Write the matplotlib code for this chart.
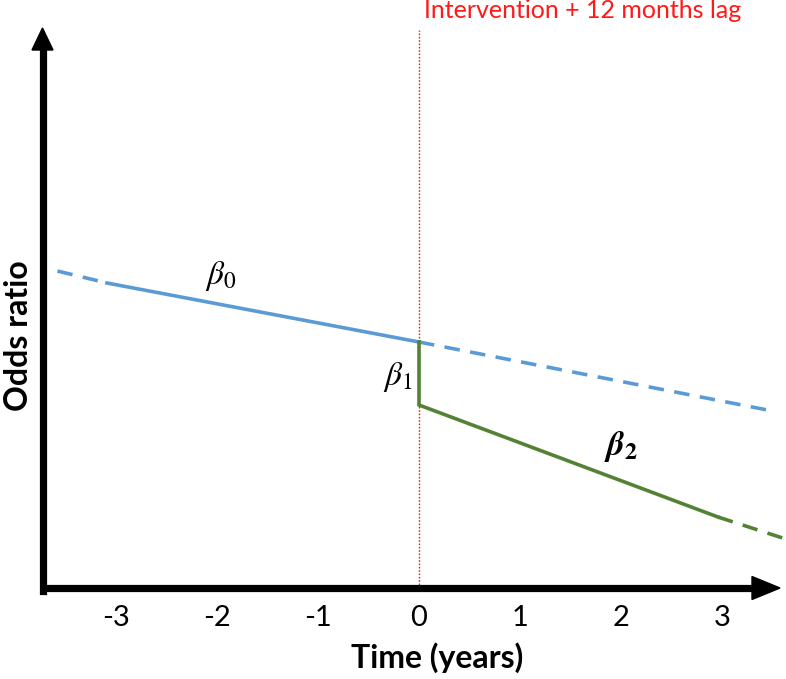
import matplotlib
matplotlib.use("Agg")
import matplotlib.pyplot as plt
from matplotlib.patches import Polygon

# ---- data ----
ticks = [-3, -2, -1, 0, 1, 2, 3]
tick_labels = ["-3", "-2", "-1", "0", "1", "2", "3"]
blue_t = [-3.58, -3.09, 0.0, 3.45]
blue_y = [3.17, 3.05, 2.46, 1.78]
green_t = [0.0, 0.0, 2.96, 3.60]
green_y = [2.46, 1.83, 0.71, 0.50]
intervention_t = 0.0
xlabel = "Time (years)"
ylabel = "Odds ratio"
vline_label = "Intervention + 12 months lag"

plt.rcParams['font.family'] = ['Lato', 'DejaVu Sans']
plt.rcParams['mathtext.fontset'] = 'stix'

W, H = 786, 679
fig = plt.figure(figsize=(W / 100, H / 100), dpi=100)
x0, x1 = 42.5, 780.0
y_axis_py, y_top_py = 588.0, 28.0
ax = fig.add_axes([x0 / W, (H - y_axis_py) / H, (x1 - x0) / W, (y_axis_py - y_top_py) / H])
ax.set_xlim((x0 - 419) / 101, (x1 - 419) / 101)
ax.set_ylim(0, 5.6)
for s in ax.spines.values():
    s.set_visible(False)
ax.set_yticks([])
ax.set_xticks(ticks)
ax.set_xticklabels(tick_labels, fontsize=21)
ax.tick_params(axis='x', length=0, pad=12)

blue = '#5B9BD5'
green = '#548235'
lw = 2.6
dash = (4.3, 2.9)

# blue series
ax.plot(blue_t[0:2], blue_y[0:2], color=blue, lw=lw, dashes=dash, clip_on=False)
ax.plot(blue_t[1:3], blue_y[1:3], color=blue, lw=lw, clip_on=False)
ax.plot(blue_t[2:4], blue_y[2:4], color=blue, lw=lw, dashes=dash, clip_on=False)
# green series
ax.plot(green_t[0:3], green_y[0:3], color=green, lw=lw, clip_on=False, solid_joinstyle='miter')
ax.plot(green_t[2:4], green_y[2:4], color=green, lw=lw, dashes=dash, clip_on=False)

# intervention line
ax.plot([intervention_t, intervention_t], [0, 5.58], color='#e8202a', lw=1.0, ls=(0, (1.2, 1.2)), clip_on=False, zorder=1)
ax.text(intervention_t + 0.05, 5.77, vline_label, color='#ff1a1a', fontsize=18, ha='left', va='center', clip_on=False)

# beta labels
ax.text(-1.96, 3.12, r'$\beta_0$', fontsize=24, ha='center', va='center')
ax.text(-0.21, 2.11, r'$\beta_1$', fontsize=24, ha='center', va='center')
ax.text(2.0, 1.42, r'$\mathbfit{\beta}_{\mathbf{2}}$', fontsize=25, ha='center', va='center')

# axes arrows (shafts)
axlw = 5.2
ax.plot([0, 0], [-0.006, 1 - 22 / 560], transform=ax.transAxes, color='black', lw=axlw, clip_on=False, solid_capstyle='projecting')
ax.plot([0, 1 - 26 / 737.5], [0, 0], transform=ax.transAxes, color='black', lw=axlw, clip_on=False, solid_capstyle='butt')
# arrow heads (in axes fraction, sizes in px)
aw, ah = 737.5, 560.0
top_head = Polygon([(-10.5 / aw, 1 - 22 / ah), (10.5 / aw, 1 - 22 / ah), (0, 1)], closed=True,
                   transform=ax.transAxes, color='black', clip_on=False)
right_head = Polygon([(1 - 28 / aw, 11.5 / ah), (1 - 28 / aw, -11.5 / ah), (1, 0)], closed=True,
                     transform=ax.transAxes, color='black', clip_on=False)
ax.add_patch(top_head)
ax.add_patch(right_head)

# axis labels
fig.text(437 / W, 1 - 658 / H, xlabel, fontsize=23, fontweight='bold', ha='center', va='center')
fig.text(19 / W, 1 - 336 / H, ylabel, fontsize=23, fontweight='bold', ha='center', va='center', rotation=90)

fig.savefig('out.png', dpi=100)
